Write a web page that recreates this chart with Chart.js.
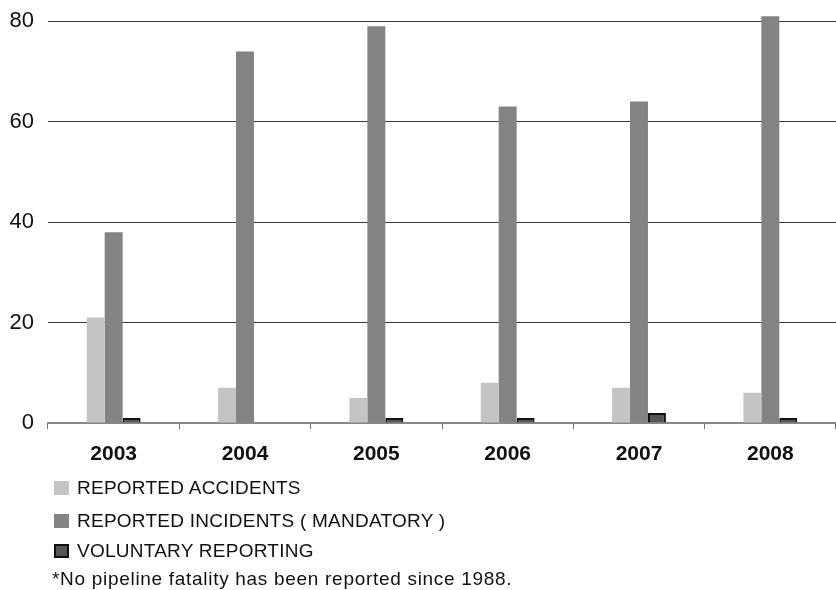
<!DOCTYPE html>
<html>
<head>
<meta charset="utf-8">
<script src="https://cdn.jsdelivr.net/npm/chart.js@4/dist/chart.umd.min.js"></script>
<style>
  html, body { margin: 0; padding: 0; background: #fff; }
  #wrap { position: relative; width: 836px; height: 590px; overflow: hidden; }
  #c { position: absolute; left: 0; top: -16px; }
  .leg { position: absolute; left: 54px; font-family: Arial, "Liberation Sans", sans-serif; font-size: 19px; letter-spacing: 0.25px; color: #111; white-space: nowrap; line-height: 20px; }
  .sw { display: inline-block; width: 15px; height: 14px; vertical-align: -1px; margin-right: 8px; box-sizing: border-box; }
  #note { position: absolute; left: 52px; top: 569px; font-family: Arial, "Liberation Sans", sans-serif; font-size: 19px; letter-spacing: 0.7px; color: #111; white-space: nowrap; line-height: 20px; }
</style>
</head>
<body>
<div id="wrap">
  <canvas id="c" width="836" height="604"></canvas>
  <div id="legend"></div>
  <div id="note"></div>
</div>
<script>
const years = ["2003", "2004", "2005", "2006", "2007", "2008"];
const reportedAccidents = [21, 7, 5, 8, 7, 6];
const reportedIncidents = [38, 74, 79, 63, 64, 81];
const voluntaryReporting = [1, 0, 1, 1, 2, 1];
const yTicks = [0, 20, 40, 60, 80];
const seriesLabels = ["REPORTED ACCIDENTS", "REPORTED INCIDENTS ( MANDATORY )", "VOLUNTARY REPORTING"];
const footnote = "*No pipeline fatality has been reported since 1988.";

const datasets = [
  { label: seriesLabels[0], data: reportedAccidents, backgroundColor: "#c4c4c4", borderWidth: 0 },
  { label: seriesLabels[1], data: reportedIncidents, backgroundColor: "#838383", borderWidth: 0 },
  { label: seriesLabels[2], data: voluntaryReporting, backgroundColor: "#555555", borderColor: "#111111", borderWidth: 2 }
];

new Chart(document.getElementById("c"), {
  type: "bar",
  data: { labels: years, datasets: datasets },
  options: {
    responsive: false,
    animation: false,
    devicePixelRatio: 1,
    layout: { padding: { top: 8, right: 0, bottom: 124, left: 0 } },
    plugins: { legend: { display: false }, tooltip: { enabled: false } },
    datasets: { bar: { categoryPercentage: 0.41, barPercentage: 1.0 } },
    scales: {
      x: {
        offset: true,
        grid: { display: true, drawOnChartArea: false, drawTicks: true, tickLength: 6, color: "#777", offset: true },
        border: { display: true, color: "#888", width: 2 },
        ticks: { color: "#111", font: { family: "Arial, 'Liberation Sans', sans-serif", size: 21, weight: "bold" }, padding: 13 },
        afterFit: s => { s.height = 41; }
      },
      y: {
        min: 0, max: 82,
        afterBuildTicks: s => { s.ticks = yTicks.map(v => ({ value: v })); },
        grid: { color: ctx => ctx.tick && ctx.tick.value === 0 ? "rgba(0,0,0,0)" : "#3a3a3a", lineWidth: 1, drawTicks: false },
        border: { display: false },
        ticks: { color: "#111", font: { family: "Arial, 'Liberation Sans', sans-serif", size: 22 }, padding: 14 },
        afterFit: s => { s.width = 48; }
      }
    }
  }
});

// HTML legend built from the datasets
const legendEl = document.getElementById("legend");
const tops = [478, 511, 541];
datasets.forEach((d, i) => {
  const row = document.createElement("div");
  row.className = "leg";
  row.style.top = tops[i] + "px";
  const sw = document.createElement("span");
  sw.className = "sw";
  sw.style.background = d.backgroundColor;
  if (d.borderWidth) sw.style.border = "2px solid " + d.borderColor;
  row.appendChild(sw);
  row.appendChild(document.createTextNode(d.label));
  legendEl.appendChild(row);
});
document.getElementById("note").textContent = footnote;
</script>
</body>
</html>
